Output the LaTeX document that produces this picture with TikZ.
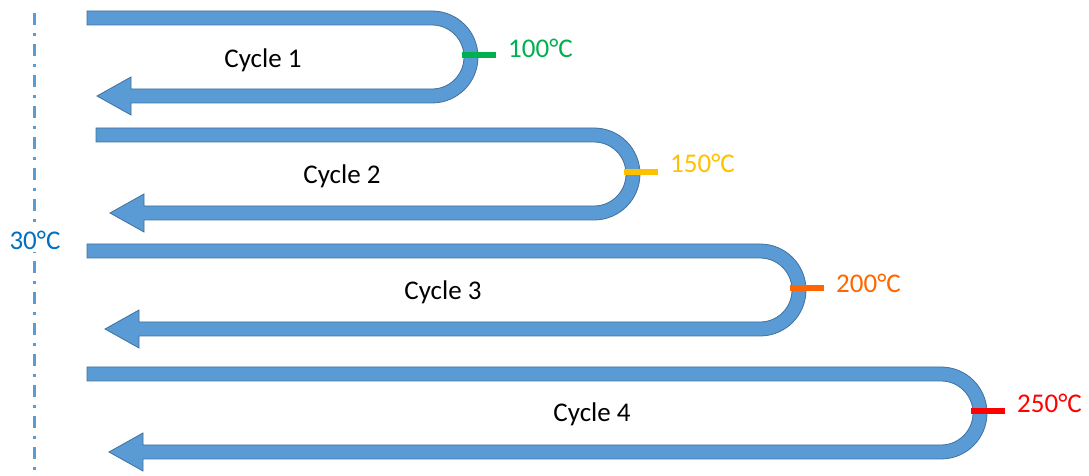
\documentclass[tikz,border=0pt]{standalone}
\usepackage{fontspec}
\setmainfont{Carlito}
\usetikzlibrary{positioning}

\definecolor{bandblue}{HTML}{5B9BD5}
\definecolor{bandedge}{HTML}{41719C}
\definecolor{coolblue}{HTML}{0070C0}
\definecolor{hotgreen}{HTML}{00B050}
\definecolor{hotyellow}{HTML}{FFC000}
\definecolor{hotorange}{HTML}{FF6600}
\definecolor{hotred}{HTML}{FF0000}

\begin{document}
\begin{tikzpicture}[x=1pt, y=1pt, every node/.style={font=\fontsize{27}{31}\selectfont, inner sep=0pt},
    band/.style={fill=bandblue, draw=bandedge, line width=0.8pt, line join=miter},
    tick/.style={line width=6pt},
    cyclelabel/.style={anchor=base, text=black},
    templabel/.style={anchor=west}]
    \useasboundingbox (0,0) rectangle (1089,476);

    % start temperature
    \draw[bandblue, line width=3pt, dash pattern=on 12pt off 8pt on 3pt off 8pt] (34,463) -- (34,6);
    \node (start) [fill=white, inner sep=3pt, text=coolblue] at (35,236) {30°C};

    % cycle 1
    \draw[band] (87,465) -- (432,465) arc[start angle=90, end angle=-90, radius=46pt]
        -- (131,373) -- (131,361) -- (97,380) -- (131,399) -- (131,387)
        -- (432,387) arc[start angle=-90, end angle=90, radius=32pt] -- (87,451) -- cycle;
    \node (cycleA) [cyclelabel] at (263,408) {Cycle 1};
    \draw[tick, hotgreen] (462,421) -- (496,421);
    \node (tempA) [templabel, text=hotgreen] at (508,428) {100°C};

    % cycle 2
    \draw[band] (96,348) -- (594,348) arc[start angle=90, end angle=-90, radius=46pt]
        -- (144,256) -- (144,244) -- (110,263) -- (144,282) -- (144,270)
        -- (594,270) arc[start angle=-90, end angle=90, radius=32pt] -- (96,334) -- cycle;
    \node (cycleB) [cyclelabel] at (342,292) {Cycle 2};
    \draw[tick, hotyellow] (624,304) -- (658,304);
    \node (tempB) [templabel, text=hotyellow] at (670,313) {150°C};

    % cycle 3
    \draw[band] (87,232) -- (760,232) arc[start angle=90, end angle=-90, radius=46pt]
        -- (139,140) -- (139,128) -- (105,147) -- (139,166) -- (139,154)
        -- (760,154) arc[start angle=-90, end angle=90, radius=32pt] -- (87,218) -- cycle;
    \node (cycleC) [cyclelabel] at (443,176) {Cycle 3};
    \draw[tick, hotorange] (790,188) -- (824,188);
    \node (tempC) [templabel, text=hotorange] at (836,193) {200°C};

    % cycle 4
    \draw[band] (87,109) -- (941,109) arc[start angle=90, end angle=-90, radius=46pt]
        -- (143,17) -- (143,5) -- (109,24) -- (143,43) -- (143,31)
        -- (941,31) arc[start angle=-90, end angle=90, radius=32pt] -- (87,95) -- cycle;
    \node (cycleD) [cyclelabel] at (592,54) {Cycle 4};
    \draw[tick, hotred] (971,65) -- (1005,65);
    \node (tempD) [templabel, text=hotred] at (1017,73) {250°C};
\end{tikzpicture}
\end{document}
